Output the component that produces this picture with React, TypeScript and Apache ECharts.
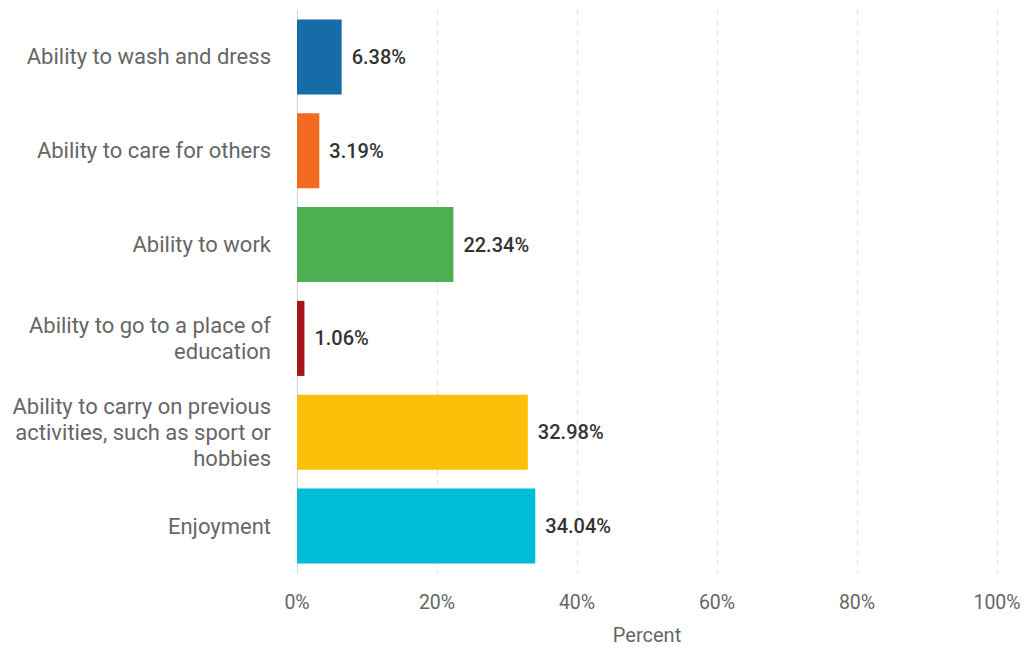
import React, { useEffect, useRef } from "react";
import * as echarts from "echarts";

const categories = [
  "Ability to wash and dress",
  "Ability to care for others",
  "Ability to work",
  "Ability to go to a place of education",
  "Ability to carry on previous activities, such as sport or hobbies",
  "Enjoyment",
];
const categoryLabels = [
  "Ability to wash and dress",
  "Ability to care for others",
  "Ability to work",
  "Ability to go to a place of\neducation",
  "Ability to carry on previous\nactivities, such as sport or\nhobbies",
  "Enjoyment",
];
const values = [6.38, 3.19, 22.34, 1.06, 32.98, 34.04];
const colors = ["#166ca6", "#f26a22", "#4caf50", "#a5161a", "#fdc009", "#00bcd5"];
const xTicks = [0, 20, 40, 60, 80, 100];

export default function App() {
  const ref = useRef<HTMLDivElement>(null);
  useEffect(() => {
    if (!ref.current) return;
    const chart = echarts.init(ref.current, undefined, { renderer: "svg" });
    chart.setOption({
      animation: false,
      grid: {
        left: 297,
        right: 31,
        top: 10,
        bottom: 73,
        containLabel: false,
        outerBoundsMode: "none",
      },
      xAxis: {
        type: "value",
        min: xTicks[0],
        max: xTicks[xTicks.length - 1],
        interval: 20,
        name: "Percent",
        nameLocation: "middle",
        nameGap: 52,
        nameTextStyle: { color: "#666", fontSize: 20, fontFamily: "Roboto" },
        axisLine: { show: false },
        axisTick: { show: false },
        axisLabel: {
          color: "#666",
          fontSize: 19.5,
          fontFamily: "Roboto",
          margin: 19,
          formatter: (v: number) => v + "%",
        },
        splitLine: { show: true, lineStyle: { color: "#e0e0e0", type: [5, 5], width: 1 } },
      },
      yAxis: {
        type: "category",
        inverse: true,
        data: categories,
        axisLine: { show: true, lineStyle: { color: "#ccd6eb", width: 1 } },
        axisTick: { show: false },
        axisLabel: {
          color: "#666",
          fontSize: 22,
          fontFamily: "Roboto",
          margin: 26,
          lineHeight: 26,
          align: "right",
          formatter: (_v: string, i: number) => categoryLabels[i],
        },
      },
      series: [
        {
          type: "bar",
          barCategoryGap: "20%",
          data: values.map((v, i) => ({ value: v, itemStyle: { color: colors[i] } })),
          label: {
            show: true,
            position: "right",
            distance: 10,
            color: "#333",
            fontSize: 20,
            fontWeight: 500,
            fontFamily: "Roboto",
            formatter: (p: any) => p.value.toFixed(2) + "%",
          },
        },
      ],
    });
    return () => chart.dispose();
  }, []);
  return (
    <div
      ref={ref}
      style={{ position: "absolute", left: 0, top: 0, width: 1028, height: 646 }}
    />
  );
}
